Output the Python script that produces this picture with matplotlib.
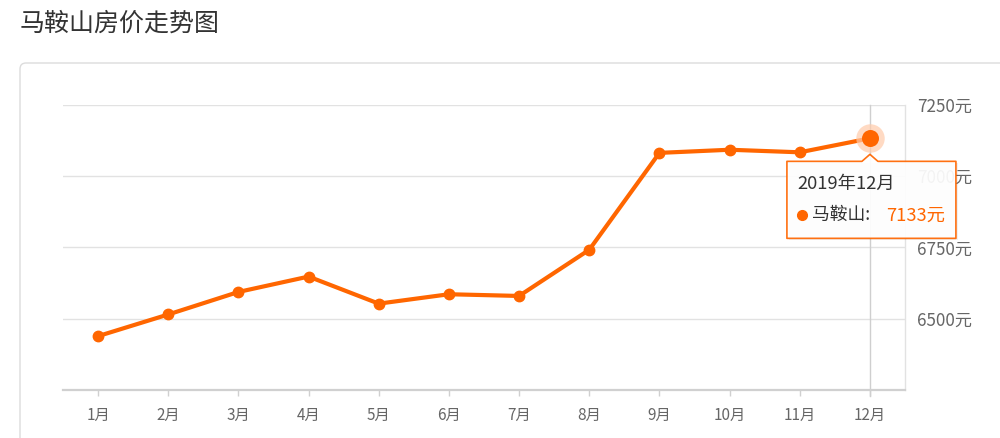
import matplotlib
matplotlib.use("Agg")
import matplotlib.pyplot as plt
from matplotlib.patches import Polygon, FancyBboxPatch
from matplotlib.transforms import IdentityTransform

plt.rcParams['font.family'] = ['Noto Sans CJK SC', 'DejaVu Sans']

# ---- data ----
title = "马鞍山房价走势图"
series_name = "马鞍山"
months = ["1月", "2月", "3月", "4月", "5月", "6月", "7月", "8月", "9月", "10月", "11月", "12月"]
values = [6439, 6515, 6594, 6648, 6553, 6586, 6580, 6742, 7082, 7093, 7084, 7133]
y_ticks = [6500, 6750, 7000, 7250]
tooltip_date = "2019年12月"

ORANGE = "#FF6600"

fig = plt.figure(figsize=(10, 4.38), dpi=100)
W, H = 1000, 438
idt = IdentityTransform()

# card background
card = FancyBboxPatch((20, -20), 1000, H - 63 + 20, boxstyle="round,pad=0,rounding_size=6",
                      transform=idt, facecolor="white", edgecolor="#dcdcdc", linewidth=1.0, zorder=0)
fig.add_artist(card)

fig.text(20 / W, 1 - 24 / H, title, fontsize=18, color="#333333", ha="left", va="center")

ax = fig.add_axes([63 / W, 1 - 390 / H, (905 - 63) / W, (390 - 105) / H])
ax.set_facecolor("none")
x = list(range(1, len(months) + 1))
ax.set_xlim(0.5, len(months) + 0.5)
ax.set_ylim(6250, 7250)

ax.plot(x, values, color=ORANGE, lw=3.0, marker="o", markersize=7.5, zorder=4,
        solid_joinstyle="round")

# grid / spines
ax.set_yticks(y_ticks)
ax.yaxis.tick_right()
ax.set_yticklabels([f"{v}元" for v in y_ticks])
ax.grid(axis="y", color="#e2e2e2", lw=1.0)
ax.tick_params(axis="y", length=0, pad=8.5, labelsize=12.3, labelcolor="#666666")
ax.set_xticks(x)
ax.set_xticklabels(months)
ax.tick_params(axis="x", length=4, width=1, color="#d0d0d0", pad=8, labelsize=11, labelcolor="#666666")
for s in ["top", "left"]:
    ax.spines[s].set_visible(False)
ax.spines["bottom"].set_color("#d0d0d0")
ax.spines["bottom"].set_linewidth(1.6)
ax.spines["right"].set_color("#e2e2e2")
ax.spines["right"].set_linewidth(1.0)

# crosshair on last point
ax.axvline(x[-1], ymin=-0.02, ymax=1, color="#cfcfcf", lw=1.0, zorder=2, clip_on=False)

# highlighted last point
ax.scatter([x[-1]], [values[-1]], s=420, color="#FFCBAA", alpha=0.7, zorder=5, linewidths=0)
ax.scatter([x[-1]], [values[-1]], s=150, color=ORANGE, zorder=6, linewidths=0)

# tooltip positioned relative to last point
fig.canvas.draw()
px, py = ax.transData.transform((x[-1], values[-1]))
left, right = px - 83, px + 86
top, bottom = py - 23, py - 100
tip = py - 16
shadow = Polygon([(left + 2, bottom - 2), (right + 2, bottom - 2), (right + 2, top - 2), (left + 2, top - 2)],
                 closed=True, transform=idt, facecolor="#000000", alpha=0.06, edgecolor="none", zorder=9)
fig.add_artist(shadow)
tt = Polygon([(left, bottom), (right, bottom), (right, top), (px + 8, top), (px, tip), (px - 8, top), (left, top)],
             closed=True, transform=idt, facecolor="white", alpha=0.93, edgecolor=ORANGE, linewidth=1.2,
             joinstyle="round", zorder=10)
fig.add_artist(tt)
fig.text((px - 73) / W, (py - 46) / H, tooltip_date, fontsize=13.2, color="#333333",
         ha="left", va="center", zorder=11)
fig.add_artist(plt.Line2D([(px - 68) / W], [(py - 77) / H], marker="o", markersize=7,
                          color=ORANGE, transform=fig.transFigure, zorder=11))
fig.text((px - 58) / W, (py - 77) / H, f"{series_name}:", fontsize=12.8, color="#333333",
         ha="left", va="center", zorder=11)
fig.text((px + 75) / W, (py - 77) / H, f"{values[-1]}元", fontsize=13.2, color=ORANGE,
         ha="right", va="center", zorder=11)

fig.savefig("out.png", dpi=100)
